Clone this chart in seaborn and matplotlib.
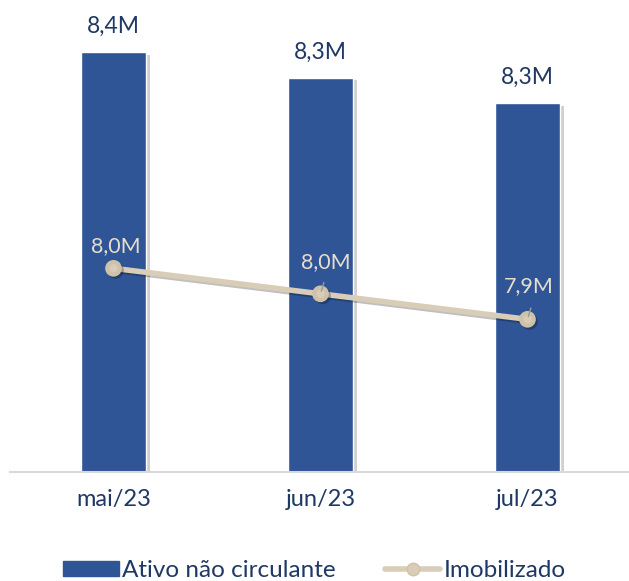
import matplotlib
matplotlib.use("Agg")
import matplotlib.pyplot as plt
import matplotlib.patheffects as pe
from matplotlib.patches import Patch
from matplotlib.lines import Line2D
import seaborn as sns

# Data
months = ["mai/23", "jun/23", "jul/23"]
ativo_nc = [8.354, 8.314, 8.274]      # Ativo não circulante (milhões)
imobilizado = [8.015, 7.975, 7.935]   # Imobilizado (milhões)

blue = "#2F5597"
beige = "#D9CDB7"
navy = "#1F3864"

sns.set_style("white")
plt.rcParams["font.family"] = ["Lato", "DejaVu Sans"]

fig = plt.figure(figsize=(6.29, 5.81), dpi=100)
ax = fig.add_axes([10 / 629, 109 / 581, 621 / 629, 472 / 581])

# bars
sns.barplot(x=months, y=ativo_nc, color=blue, width=0.314, saturation=1, ax=ax)
for bar in ax.patches:
    bar.set_path_effects([pe.SimplePatchShadow(offset=(3, -2), shadow_rgbFace="#8a8a8a", alpha=0.4),
                          pe.Normal()])

# line
sns.pointplot(x=months, y=imobilizado, color=beige, markers="o", markersize=9,
              linewidth=4, ax=ax, zorder=4)
for ln in ax.lines:
    ln.set_markeredgecolor("#CFC2AA")
    ln.set_path_effects([pe.SimpleLineShadow(offset=(1.5, -1.5), alpha=0.25), pe.Normal()])

ax.set_xlim(-0.5, 2.5)
ax.set_ylim(7.6955, 7.6955 + 472 / 637.5)

# bar labels
for i, v in enumerate(ativo_nc):
    ax.annotate(f"{v:.1f}M".replace(".", ","), (i, v), xytext=(0, 11), textcoords="offset points",
                ha="center", va="bottom", fontsize=16.5, color=navy)

# line labels
line_offsets = [(2, 9), (4, 16), (1, 17)]
for i, v in enumerate(imobilizado):
    dx, dy = line_offsets[i]
    ax.annotate(f"{v:.1f}M".replace(".", ","), (i, v), xytext=(dx, dy), textcoords="offset points",
                ha="center", va="bottom", fontsize=15.5, color="#E6DDCD", zorder=6)
# leader lines for jun and jul
for i in [1, 2]:
    ax.annotate("", (i, imobilizado[i]), xytext=(i + 0.02, imobilizado[i] + 0.022),
                arrowprops=dict(arrowstyle="-", color="#9a9a9a", lw=1), zorder=5)

# axes styling
for s in ["top", "right", "left"]:
    ax.spines[s].set_visible(False)
ax.spines["bottom"].set_color("#D9D9D9")
ax.spines["bottom"].set_linewidth(1.5)
ax.set_yticks([])
ax.set_xlabel("")
ax.set_ylabel("")
ax.tick_params(axis="x", length=0, pad=12, labelsize=17, labelcolor=navy)

handles = [Patch(facecolor=blue, edgecolor=blue),
           Line2D([0], [0], color=beige, lw=4, marker="o", markersize=9,
                  markerfacecolor=beige, markeredgecolor="#CFC2AA")]
fig.legend(handles, ["Ativo não circulante", "Imobilizado"], loc="lower center",
           bbox_to_anchor=(0.5, -0.038), ncol=2, frameon=False, fontsize=17.5,
           labelcolor=navy, handlelength=2.3, handleheight=0.6, handletextpad=0.15,
           columnspacing=2.0)

fig.savefig("out.png", dpi=100)
